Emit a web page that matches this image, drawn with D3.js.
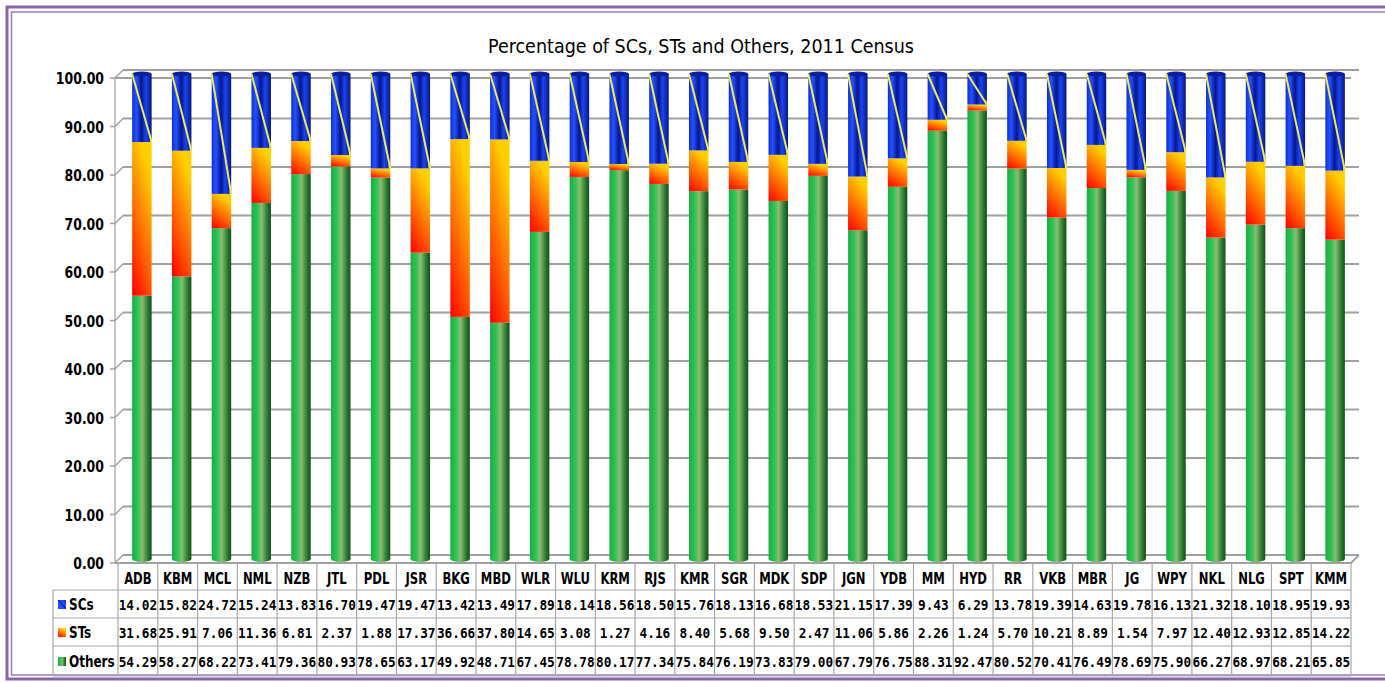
<!DOCTYPE html>
<html>
<head>
<meta charset="utf-8">
<script src="https://cdn.jsdelivr.net/npm/d3@7/dist/d3.min.js"></script>
<style>
body { margin: 0; background: #fff; }
svg { display: block; }
</style>
</head>
<body>
<svg id="chart" width="1385" height="682"></svg>
<script>
// district codes, 2011 census
var categories = ['ADB','KBM','MCL','NML','NZB','JTL','PDL','JSR','BKG','MBD','WLR','WLU','KRM','RJS','KMR','SGR',
  'MDK','SDP','JGN','YDB','MM','HYD','RR','VKB','MBR','JG','WPY','NKL','NLG','SPT','KMM'];
var scs = [14.02,15.82,24.72,15.24,13.83,16.70,19.47,19.47,13.42,13.49,17.89,18.14,18.56,18.50,15.76,18.13,
  16.68,18.53,21.15,17.39,9.43,6.29,13.78,19.39,14.63,19.78,16.13,21.32,18.10,18.95,19.93];
var sts = [31.68,25.91,7.06,11.36,6.81,2.37,1.88,17.37,36.66,37.80,14.65,3.08,1.27,4.16,8.40,5.68,
  9.50,2.47,11.06,5.86,2.26,1.24,5.70,10.21,8.89,1.54,7.97,12.40,12.93,12.85,14.22];
var others = [54.29,58.27,68.22,73.41,79.36,80.93,78.65,63.17,49.92,48.71,67.45,78.78,80.17,77.34,75.84,76.19,
  73.83,79.00,67.79,76.75,88.31,92.47,80.52,70.41,76.49,78.69,75.90,66.27,68.97,68.21,65.85];
var seriesNames = ['SCs','STs','Others'];
var yTicks = [0,10,20,30,40,50,60,70,80,90,100];

// squeeze text horizontally so it looks like the narrow font of the original
function squeeze(sel, k) {
  sel.each(function() {
    var len = this.getComputedTextLength();
    d3.select(this).attr('textLength', len * k).attr('lengthAdjust', 'spacingAndGlyphs');
  });
}

function chart()
{
  var svg = d3.select('#chart');
  var d = 4;          // half depth of the 3d box
  var bw = 19.5;      // bar width
  var grid = '#a0a0a0';
  var cond = '"DejaVu Sans Condensed", sans-serif';

  var x = d3.scaleBand().domain(categories).range([118, 1351]);
  var y = d3.scaleLinear().domain([0, 100]).range([559, 74]);

  var defs = svg.append('defs');
  function grad(id, x2, y1, stops) {
    var g = defs.append('linearGradient').attr('id', id)
      .attr('x1', 0).attr('y1', y1).attr('x2', x2).attr('y2', 0);
    stops.forEach(function(s) { g.append('stop').attr('offset', s[0]).attr('stop-color', s[1]); });
  }
  grad('gOthers', 1, 0, [[0,'#1cac45'],[0.3,'#2cc454'],[0.52,'#8dbb74'],[0.72,'#43923f'],[0.88,'#1e6a2a'],[1,'#17501f']]);
  grad('gSTs', 0.45, 1, [[0,'#ff0000'],[0.5,'#ff6a00'],[1,'#ffd000']]);
  grad('gSCs', 1, 0, [[0,'#0c2fd6'],[0.22,'#2452ff'],[0.48,'#06168e'],[0.7,'#1a44f2'],[1,'#08167e']]);
  grad('gKeySCs', 1, 1, [[0,'#2452ff'],[0.45,'#2452ff'],[0.5,'#06125e'],[0.6,'#2452ff'],[1,'#1030d0']]);

  // frame
  svg.append('rect').attr('x', 7).attr('y', 7).attr('width', 1400).attr('height', 672)
    .attr('fill', 'none').attr('stroke', '#8766ad').attr('stroke-width', 3);
  svg.append('rect').attr('x', 11.5).attr('y', 12).attr('width', 1400).attr('height', 663)
    .attr('fill', 'none').attr('stroke', '#9a7bbd').attr('stroke-width', 1.5);

  // title
  svg.append('text').attr('x', 701).attr('y', 53).attr('text-anchor', 'middle')
    .attr('textLength', 426).attr('lengthAdjust', 'spacingAndGlyphs')
    .style('font-family', cond).style('font-size', '20px').attr('fill', '#000')
    .text('Percentage of SCs, STs and Others, 2011 Census');

  // walls and gridlines
  var walls = svg.append('g').attr('stroke', grid).attr('fill', 'none');
  yTicks.forEach(function(t) {
    walls.append('line').attr('x1', 123).attr('x2', 1359).attr('y1', y(t) - d).attr('y2', y(t) - d).attr('stroke-width', 2);
    walls.append('line').attr('x1', 115).attr('x2', 123).attr('y1', y(t) + d).attr('y2', y(t) - d).attr('stroke-width', 1.5);
    walls.append('line').attr('x1', 110).attr('x2', 115).attr('y1', y(t) + d).attr('y2', y(t) + d).attr('stroke-width', 1.5);
  });
  walls.append('line').attr('x1', 115).attr('x2', 115).attr('y1', y(0) + d).attr('y2', y(100) + d).attr('stroke-width', 1.2);
  walls.append('line').attr('x1', 115).attr('x2', 1351).attr('y1', y(100) + d).attr('y2', y(100) + d).attr('stroke-width', 2);
  walls.append('path').attr('stroke-width', 2)
    .attr('d', 'M115,' + (y(0) + d) + 'L1351,' + (y(0) + d) + 'L1359,' + (y(0) - d));

  // y tick labels
  var yl = svg.append('g').selectAll('text').data(yTicks).enter().append('text')
    .attr('x', 104).attr('y', function(t) { return y(t) + d + 6; })
    .attr('text-anchor', 'end')
    .style('font-family', cond).style('font-weight', 'bold').style('font-size', '16.5px')
    .text(function(t) { return t.toFixed(2); });
  squeeze(yl, 0.84);

  // bars
  var bars = svg.append('g');
  categories.forEach(function(c, i) {
    var bx = x(c) + x.bandwidth() / 2 + d - bw / 2;
    var o = others[i], s = o + sts[i], top = s + scs[i];
    bars.append('ellipse').attr('cx', bx + bw / 2).attr('cy', y(0)).attr('rx', bw / 2).attr('ry', 3).attr('fill', 'url(#gOthers)');
    bars.append('rect').attr('x', bx).attr('width', bw).attr('y', y(o)).attr('height', y(0) - y(o)).attr('fill', 'url(#gOthers)');
    bars.append('rect').attr('x', bx).attr('width', bw).attr('y', y(s)).attr('height', y(o) - y(s)).attr('fill', 'url(#gSTs)');
    bars.append('rect').attr('x', bx).attr('width', bw).attr('y', y(top)).attr('height', y(s) - y(top)).attr('fill', 'url(#gSCs)');
    bars.append('ellipse').attr('cx', bx + bw / 2).attr('cy', y(top)).attr('rx', bw / 2).attr('ry', 2.5).attr('fill', '#0a1f9a');
    bars.append('line').attr('x1', bx).attr('y1', y(top)).attr('x2', bx + bw).attr('y2', y(s))
      .attr('stroke', '#ecea5c').attr('stroke-width', 2);
    bars.append('line').attr('x1', bx + bw - 1).attr('y1', y(s) - 4).attr('x2', bx + bw - 1).attr('y2', y(s))
      .attr('stroke', '#ecea5c').attr('stroke-width', 1.2);
  });

  // data table
  var rowTop = [563, 590, 618, 646, 676];
  var tbl = svg.append('g').attr('stroke', '#a8a8a8').attr('stroke-width', 1.2);
  for (var r = 1; r < rowTop.length; r++) {
    tbl.append('line').attr('x1', 53).attr('x2', 1351).attr('y1', rowTop[r]).attr('y2', rowTop[r]);
  }
  tbl.append('line').attr('x1', 53).attr('x2', 53).attr('y1', rowTop[1]).attr('y2', rowTop[4]);
  categories.forEach(function(c) {
    tbl.append('line').attr('x1', x(c)).attr('x2', x(c)).attr('y1', rowTop[0]).attr('y2', rowTop[4]);
  });
  tbl.append('line').attr('x1', 1351).attr('x2', 1351).attr('y1', rowTop[0]).attr('y2', rowTop[4]);

  var cl = svg.append('g').selectAll('text').data(categories).enter().append('text')
    .attr('x', function(c) { return x(c) + x.bandwidth() / 2; }).attr('y', 584)
    .attr('text-anchor', 'middle')
    .style('font-family', cond).style('font-weight', 'bold').style('font-size', '15px')
    .text(function(c) { return c; });
  squeeze(cl, 0.86);

  var rows = [scs, sts, others];
  var keyFill = ['url(#gKeySCs)', 'url(#gSTs)', 'url(#gOthers)'];
  rows.forEach(function(vals, r) {
    var cy = (rowTop[r + 1] + rowTop[r + 2]) / 2;
    svg.append('rect').attr('x', 58).attr('y', cy - 4).attr('width', 8).attr('height', 9).attr('fill', keyFill[r]);
    var rl = svg.append('text').attr('x', 69).attr('y', cy + 6)
      .style('font-family', cond).style('font-weight', 'bold').style('font-size', '15.5px')
      .text(seriesNames[r]);
    squeeze(rl, 0.86);
    var nums = svg.append('g').selectAll('text').data(vals).enter().append('text')
      .attr('x', function(v, i) { return x(categories[i]) + x.bandwidth() / 2; }).attr('y', cy + 5.5)
      .attr('text-anchor', 'middle')
      .style('font-family', '"DejaVu Sans Mono", monospace').style('font-weight', 'bold').style('font-size', '14px')
      .text(function(v) { return v.toFixed(2); });
    squeeze(nums, 0.91);
  });
}
chart();
</script>
</body>
</html>
